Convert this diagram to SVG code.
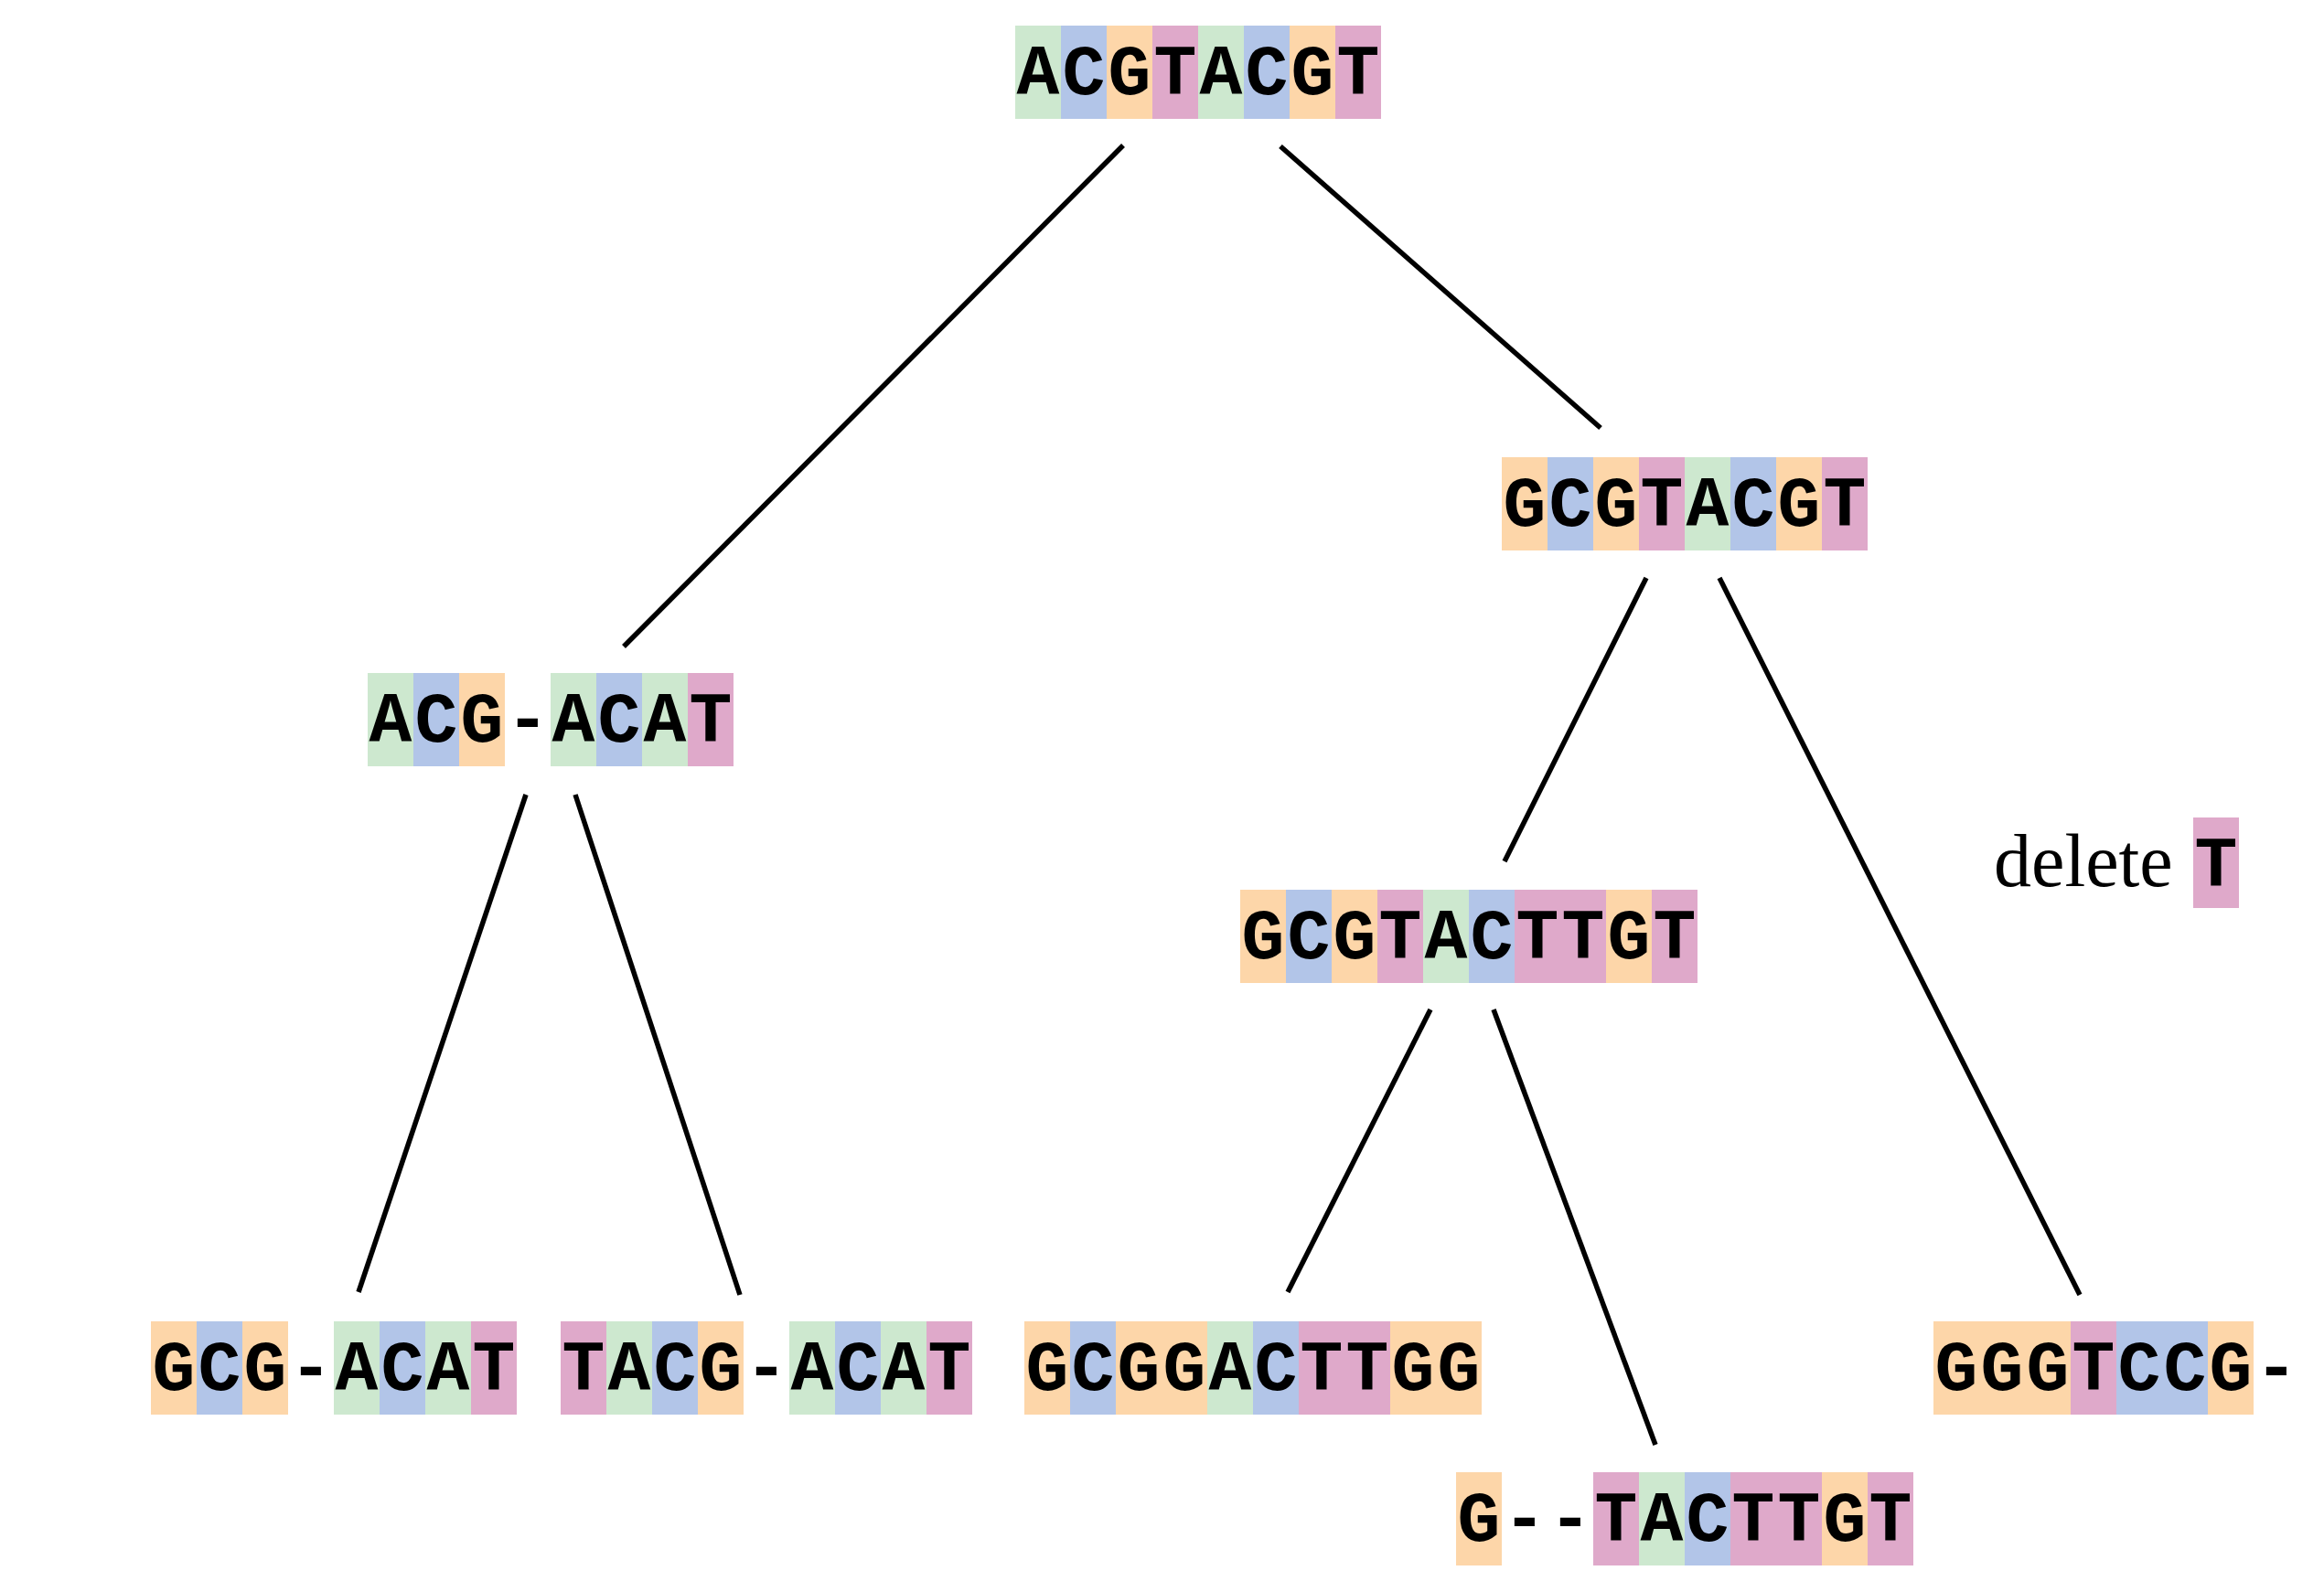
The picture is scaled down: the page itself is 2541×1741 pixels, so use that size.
<svg xmlns="http://www.w3.org/2000/svg" width="2541" height="1741" viewBox="0 0 2541 1741">
<style>
.A{fill:#cde8cf}.C{fill:#b2c5e8}.G{fill:#fdd6a9}.T{fill:#dfa9ca}
.seq{font-family:"Liberation Mono",monospace;font-weight:bold;font-size:78px;fill:#000;text-anchor:middle}
.lbl{font-family:"Liberation Serif","Times New Roman",serif;font-size:82px;fill:#000}
.edge{stroke:#000;stroke-width:5.5;fill:none}
</style>
<rect width="2541" height="1741" fill="#fff"/>
<g id="connectors">
<line class="edge" x1="1228" y1="159" x2="682" y2="707"/>
<line class="edge" x1="1400" y1="160" x2="1750" y2="468"/>
<line class="edge" x1="575" y1="869" x2="392" y2="1413"/>
<line class="edge" x1="629" y1="869" x2="809" y2="1416"/>
<line class="edge" x1="1800" y1="632" x2="1645" y2="942"/>
<line class="edge" x1="1880" y1="632" x2="2274" y2="1416"/>
<line class="edge" x1="1564" y1="1104" x2="1408" y2="1413"/>
<line class="edge" x1="1633" y1="1104" x2="1810" y2="1580"/>
</g>
<g id="n1">
<rect class="A" x="1110" y="28" width="50" height="102"/><rect class="C" x="1160" y="28" width="50" height="102"/><rect class="G" x="1210" y="28" width="50" height="102"/><rect class="T" x="1260" y="28" width="50" height="102"/><rect class="A" x="1310" y="28" width="50" height="102"/><rect class="C" x="1360" y="28" width="50" height="102"/><rect class="G" x="1410" y="28" width="50" height="102"/><rect class="T" x="1460" y="28" width="50" height="102"/>
<text class="seq" x="1135 1185 1235 1285 1335 1385 1435 1485" y="103">ACGTACGT</text>
</g>
<g id="n2">
<rect class="G" x="1642" y="500" width="50" height="102"/><rect class="C" x="1692" y="500" width="50" height="102"/><rect class="G" x="1742" y="500" width="50" height="102"/><rect class="T" x="1792" y="500" width="50" height="102"/><rect class="A" x="1842" y="500" width="50" height="102"/><rect class="C" x="1892" y="500" width="50" height="102"/><rect class="G" x="1942" y="500" width="50" height="102"/><rect class="T" x="1992" y="500" width="50" height="102"/>
<text class="seq" x="1667 1717 1767 1817 1867 1917 1967 2017" y="575">GCGTACGT</text>
</g>
<g id="n3">
<rect class="A" x="402" y="736" width="50" height="102"/><rect class="C" x="452" y="736" width="50" height="102"/><rect class="G" x="502" y="736" width="50" height="102"/><rect class="A" x="602" y="736" width="50" height="102"/><rect class="C" x="652" y="736" width="50" height="102"/><rect class="A" x="702" y="736" width="50" height="102"/><rect class="T" x="752" y="736" width="50" height="102"/>
<text class="seq" x="427 477 527 577 627 677 727 777" y="811">ACG-ACAT</text>
</g>
<g id="n4">
<rect class="G" x="1356" y="973" width="50" height="102"/><rect class="C" x="1406" y="973" width="50" height="102"/><rect class="G" x="1456" y="973" width="50" height="102"/><rect class="T" x="1506" y="973" width="50" height="102"/><rect class="A" x="1556" y="973" width="50" height="102"/><rect class="C" x="1606" y="973" width="50" height="102"/><rect class="T" x="1656" y="973" width="100" height="102"/><rect class="G" x="1756" y="973" width="50" height="102"/><rect class="T" x="1806" y="973" width="50" height="102"/>
<text class="seq" x="1381 1431 1481 1531 1581 1631 1681 1731 1781 1831" y="1048">GCGTACTTGT</text>
</g>
<g id="n5">
<rect class="G" x="165" y="1445" width="50" height="102"/><rect class="C" x="215" y="1445" width="50" height="102"/><rect class="G" x="265" y="1445" width="50" height="102"/><rect class="A" x="365" y="1445" width="50" height="102"/><rect class="C" x="415" y="1445" width="50" height="102"/><rect class="A" x="465" y="1445" width="50" height="102"/><rect class="T" x="515" y="1445" width="50" height="102"/>
<text class="seq" x="190 240 290 340 390 440 490 540" y="1520">GCG-ACAT</text>
</g>
<g id="n6">
<rect class="T" x="613" y="1445" width="50" height="102"/><rect class="A" x="663" y="1445" width="50" height="102"/><rect class="C" x="713" y="1445" width="50" height="102"/><rect class="G" x="763" y="1445" width="50" height="102"/><rect class="A" x="863" y="1445" width="50" height="102"/><rect class="C" x="913" y="1445" width="50" height="102"/><rect class="A" x="963" y="1445" width="50" height="102"/><rect class="T" x="1013" y="1445" width="50" height="102"/>
<text class="seq" x="638 688 738 788 838 888 938 988 1038" y="1520">TACG-ACAT</text>
</g>
<g id="n7">
<rect class="G" x="1120" y="1445" width="50" height="102"/><rect class="C" x="1170" y="1445" width="50" height="102"/><rect class="G" x="1220" y="1445" width="100" height="102"/><rect class="A" x="1320" y="1445" width="50" height="102"/><rect class="C" x="1370" y="1445" width="50" height="102"/><rect class="T" x="1420" y="1445" width="100" height="102"/><rect class="G" x="1520" y="1445" width="100" height="102"/>
<text class="seq" x="1145 1195 1245 1295 1345 1395 1445 1495 1545 1595" y="1520">GCGGACTTGG</text>
</g>
<g id="n8">
<rect class="G" x="1592" y="1610" width="50" height="102"/><rect class="T" x="1742" y="1610" width="50" height="102"/><rect class="A" x="1792" y="1610" width="50" height="102"/><rect class="C" x="1842" y="1610" width="50" height="102"/><rect class="T" x="1892" y="1610" width="100" height="102"/><rect class="G" x="1992" y="1610" width="50" height="102"/><rect class="T" x="2042" y="1610" width="50" height="102"/>
<text class="seq" x="1617 1667 1717 1767 1817 1867 1917 1967 2017 2067" y="1685">G--TACTTGT</text>
</g>
<g id="n9">
<rect class="G" x="2114" y="1445" width="150" height="102"/><rect class="T" x="2264" y="1445" width="50" height="102"/><rect class="C" x="2314" y="1445" width="100" height="102"/><rect class="G" x="2414" y="1445" width="50" height="102"/>
<text class="seq" x="2139 2189 2239 2289 2339 2389 2439 2489" y="1520">GGGTCCG-</text>
</g>
<g id="label">
<text class="lbl" x="2180" y="969">delete</text>
<rect class="T" x="2398" y="894" width="50" height="99"/>
<text class="seq" x="2423" y="969">T</text>
</g>
</svg>
